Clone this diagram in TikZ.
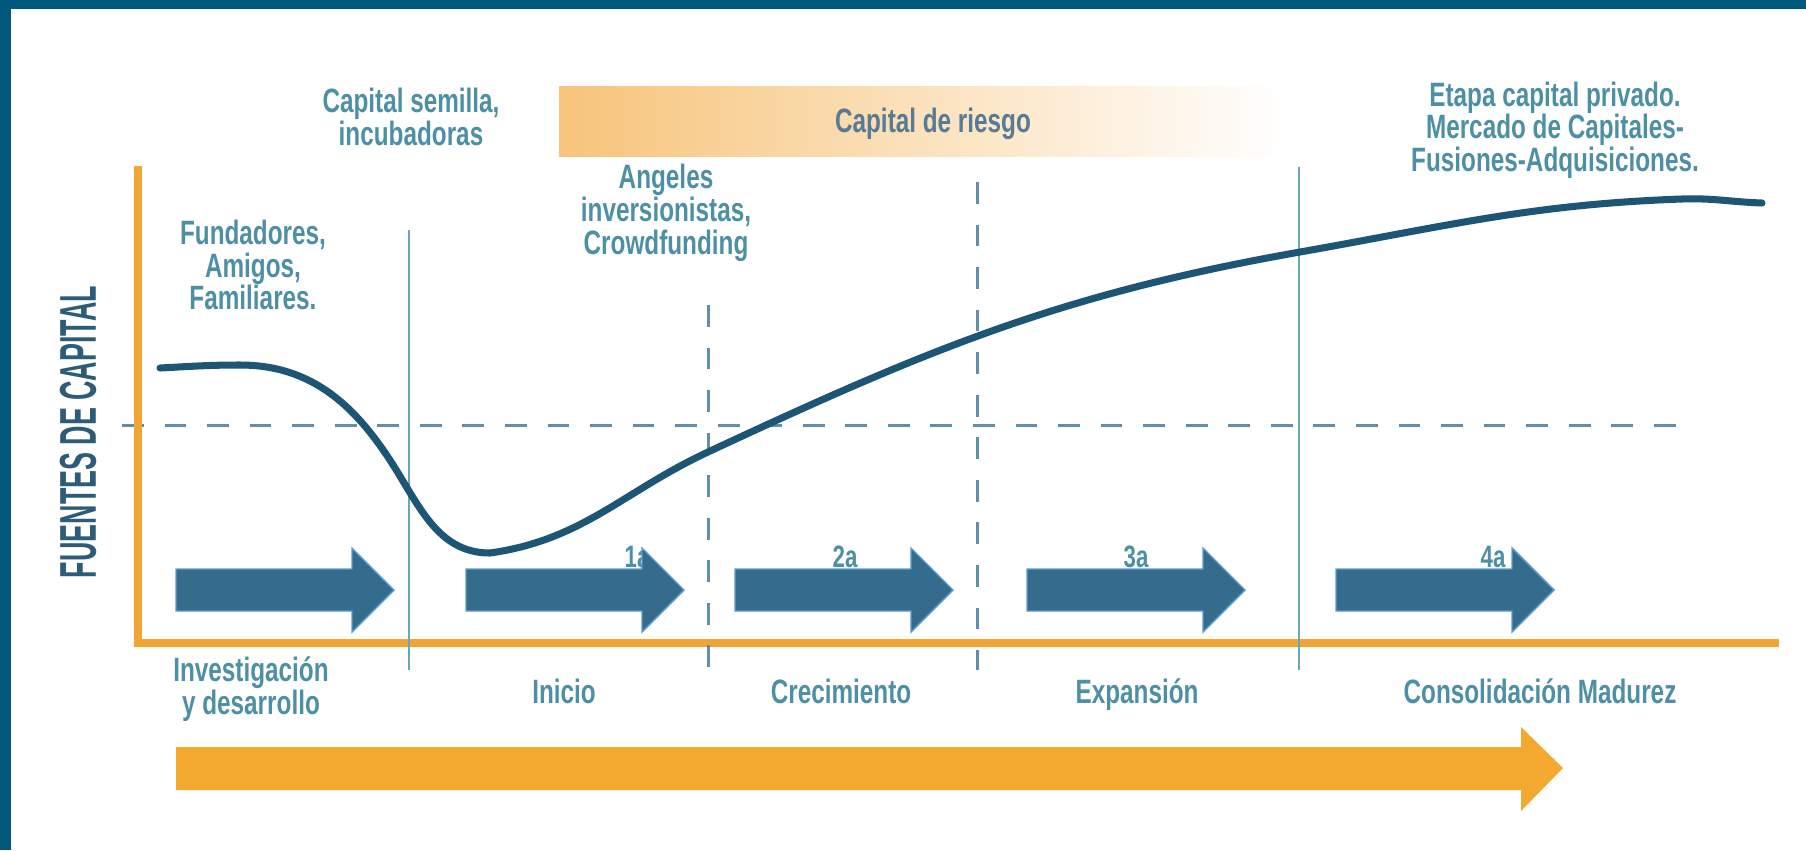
\documentclass[tikz,border=0pt]{standalone}
\usepackage{fontspec}
\setmainfont{Liberation Sans}
\newfontfamily\labelfont[FakeStretch=0.72]{Liberation Sans}
\newfontfamily\axisfont[FakeStretch=0.52]{Liberation Sans}
\definecolor{bordercol}{RGB}{0,88,124}
\definecolor{axisorange}{RGB}{240,165,53}
\definecolor{bigorange}{RGB}{243,168,47}
\definecolor{barorange}{RGB}{247,196,122}
\definecolor{curvecol}{RGB}{29,86,116}
\definecolor{arrowblue}{RGB}{53,108,139}
\definecolor{arrowedge}{RGB}{91,155,213}
\definecolor{textteal}{RGB}{77,143,165}
\definecolor{riesgocol}{RGB}{88,122,148}
\definecolor{dashcol}{RGB}{98,142,168}
\definecolor{septeal}{RGB}{106,166,179}
\definecolor{axislabel}{RGB}{45,92,120}

\begin{document}
\begin{tikzpicture}[x=0.01cm,y=0.01cm,
	lbl/.style={text=textteal,font=\labelfont\bfseries\fontsize{9.6}{9.3}\selectfont,align=center,inner sep=0pt},
	stagenum/.style={text=textteal,font=\labelfont\bfseries\fontsize{8.8}{9}\selectfont,inner sep=0pt},
	phase/.style={fill=arrowblue,draw=arrowedge,line width=.4pt},
	stagesep/.style={draw=septeal,line width=.8pt},
	stagedash/.style={draw=dashcol,line width=.85pt,dash pattern=on 6.2pt off 5.9pt}]
	\useasboundingbox (0,0) rectangle (1806,850);
	\fill[bordercol] (0,841) rectangle (1806,850);
	\fill[bordercol] (0,0) rectangle (11,850);
	\shade[left color=barorange,right color=white] (559,694) rectangle (1284,764);
	\node[lbl,text=riesgocol] (riesgo) at (933,726) {Capital de riesgo};
	\draw[stagedash] (122,425) -- (1687,425);
	\draw[axisorange,line width=2pt] (138,684) -- (138,207) -- (1779,207);
	\draw[stagesep] (409,620) -- (409,180);
	\draw[stagedash] (708,545) -- (708,180);
	\draw[stagedash] (977,668) -- (977,180);
	\draw[stagesep] (1299,683) -- (1299,180);
	\draw[curvecol,line width=2pt,line cap=round] (160,482) to[out=3,in=180] (240,485) to[out=0,in=122] (395,382) to[out=302,in=180] (490,297) to[out=8,in=205] (708,398) to[out=25,in=190] (1300,598) to[out=10,in=182] (1682,651) to[out=2,in=178] (1762,647);
	\node[stagenum] (n1) at (637,293) {1a};
	\node[stagenum] (n2) at (845,293) {2a};
	\node[stagenum] (n3) at (1136,293) {3a};
	\node[stagenum] (n4) at (1493,293) {4a};
	\foreach \x in {176,466,735,1027,1336}
		\filldraw[phase] (\x,239) -- ++(176,0) -- ++(0,-21) -- ++(42,42) -- ++(-42,42) -- ++(0,-21) -- ++(-176,0) -- cycle;
	\fill[bigorange] (176,60) -- (1521,60) -- (1521,39) -- (1563,82) -- (1521,123) -- (1521,103) -- (176,103) -- cycle;
	\node[rotate=90,text=axislabel,font=\axisfont\bfseries\fontsize{14.7}{16}\selectfont,inner sep=0pt] (fuentes) at (78,418) {FUENTES DE CAPITAL};
	\node[lbl] (semilla) at (411,733) {Capital semilla,\\incubadoras};
	\node[lbl] (angeles) at (666,637) {Angeles\\inversionistas,\\Crowdfunding};
	\node[lbl] (fundadores) at (253,585) {Fundadores,\\Amigos,\\Familiares.};
	\node[lbl] (privado) at (1555,720) {Etapa capital privado.\\Mercado de Capitales-\\Fusiones-Adquisiciones.};
	\node[lbl] (invest) at (251,161) {Investigación\\y desarrollo};
	\node[lbl,anchor=base] (inicio) at (564,147) {Inicio};
	\node[lbl,anchor=base] (crec) at (841,147) {Crecimiento};
	\node[lbl,anchor=base] (expan) at (1137,147) {Expansión};
	\node[lbl,anchor=base] (consol) at (1540,147) {Consolidación Madurez};
\end{tikzpicture}
\end{document}
